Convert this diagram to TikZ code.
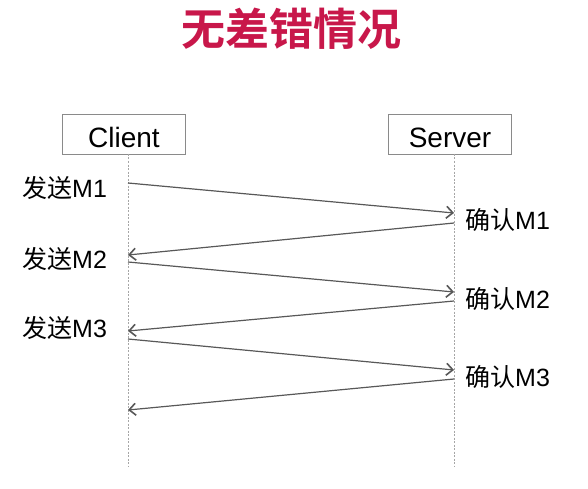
\documentclass[tikz,border=0pt]{standalone}
\usepackage{fontspec}
\setmainfont{Liberation Sans}
\newfontfamily\cjk{Noto Sans CJK SC}
\newfontfamily\cjkbold{Noto Sans CJK SC Bold}
\usetikzlibrary{arrows.meta}
\definecolor{titlered}{HTML}{C8174A}
\definecolor{arrowgray}{HTML}{585858}
\definecolor{boxgray}{HTML}{8A8A8A}
\begin{document}
\begin{tikzpicture}[x=1pt,y=-1pt,
  actor/.style={draw=boxgray,line width=0.9pt,fill=white,minimum width=123pt,minimum height=40pt,inner sep=0pt,text height=26pt,text depth=0pt,font=\fontsize{28}{32}\selectfont},
  lifeline/.style={draw=gray!70,dashed,dash pattern=on 2pt off 1.5pt,line width=0.6pt},
  msg/.style={draw=arrowgray,line width=1.2pt,-{Straight Barb[length=6.5pt,width=12pt,line width=1.6pt]}},
  lbl/.style={inner sep=0pt,font=\fontsize{25}{29}\selectfont},
]
\useasboundingbox (0,0) rectangle (588,489);
\fill[white] (0,0) rectangle (588,489);
\node[inner sep=0pt,text=titlered,font=\fontsize{44}{48}\selectfont\cjkbold] (title) at (291,29) {无差错情况};
\node[actor] (client) at (124,134) {Client};
\node[actor] (server) at (450,134) {Server};
\coordinate (cTop) at (128,154);
\coordinate (cBot) at (128,466);
\coordinate (sTop) at (454,154);
\coordinate (sBot) at (454,466);
\draw[lifeline] (cTop) -- (cBot);
\draw[lifeline] (sTop) -- (sBot);
\coordinate (c1) at (128,183); \coordinate (s1) at (454,213);
\coordinate (s1b) at (454,223); \coordinate (c1b) at (128,255);
\coordinate (c2) at (128,262); \coordinate (s2) at (454,292);
\coordinate (s2b) at (454,301); \coordinate (c2b) at (128,331);
\coordinate (c3) at (128,339); \coordinate (s3) at (454,370);
\coordinate (s3b) at (454,379); \coordinate (c3b) at (128,410);
\draw[msg] (c1) -- (s1);
\draw[msg] (s1b) -- (c1b);
\draw[msg] (c2) -- (s2);
\draw[msg] (s2b) -- (c2b);
\draw[msg] (c3) -- (s3);
\draw[msg] (s3b) -- (c3b);
\node[lbl,anchor=west] (send1) at (22,188) {{\cjk 发送}M1};
\node[lbl,anchor=west] (send2) at (22,259) {{\cjk 发送}M2};
\node[lbl,anchor=west] (send3) at (22,328) {{\cjk 发送}M3};
\node[lbl,anchor=west] (ack1) at (465,220) {{\cjk 确认}M1};
\node[lbl,anchor=west] (ack2) at (465,299) {{\cjk 确认}M2};
\node[lbl,anchor=west] (ack3) at (465,377) {{\cjk 确认}M3};
\end{tikzpicture}
\end{document}
